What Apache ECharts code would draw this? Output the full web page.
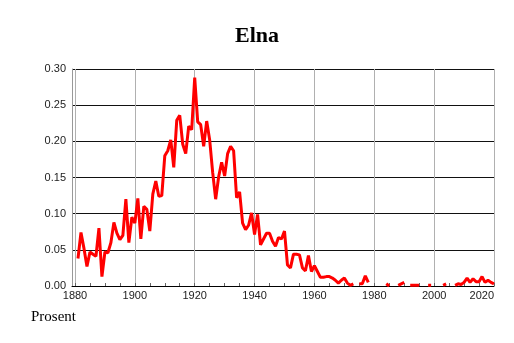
<!DOCTYPE html>
<html>
<head>
<meta charset="utf-8">
<script src="https://cdn.jsdelivr.net/npm/echarts@6/dist/echarts.min.js"></script>
<style>
  html, body { margin: 0; padding: 0; background: #fff; }
  #chart { width: 514px; height: 343px; }
</style>
</head>
<body>
<div id="chart"></div>
<script>
// Andel (prosent) med navnet Elna, per år
const startYear = 1880;
const shares = [
  null, 0.038, 0.074, 0.052, 0.027, 0.047, 0.044, 0.041, 0.080, 0.013, // 1880-1889
  0.047, 0.046, 0.060, 0.088, 0.073, 0.064, 0.070, 0.120, 0.060, 0.095, // 1890-1899
  0.087, 0.121, 0.065, 0.110, 0.106, 0.076, 0.127, 0.145, 0.124, 0.125, // 1900-1909
  0.180, 0.187, 0.202, 0.164, 0.229, 0.236, 0.196, 0.183, 0.221, 0.216, // 1910-1919
  0.288, 0.227, 0.223, 0.193, 0.228, 0.202, 0.157, 0.120, 0.151, 0.171, // 1920-1929
  0.152, 0.183, 0.193, 0.187, 0.122, 0.130, 0.087, 0.078, 0.084, 0.101, // 1930-1939
  0.071, 0.099, 0.057, 0.065, 0.073, 0.073, 0.062, 0.055, 0.067, 0.065, // 1940-1949
  0.076, 0.029, 0.025, 0.044, 0.044, 0.043, 0.025, 0.021, 0.042, 0.020, // 1950-1959
  0.028, 0.020, 0.012, 0.012, 0.013, 0.013, 0.011, 0.008, 0.004, 0.008, // 1960-1969
  0.011, 0.004, 0.001, 0.003, null, 0.003, 0.003, 0.014, 0.005, null,   // 1970-1979
  null, null, null, null, 0.003, 0.000, null, null, 0.001, 0.003,       // 1980-1989
  0.005, null, 0.001, 0.001, 0.001, 0.001, null, null, 0.001, 0.001,    // 1990-1999
  null, null, null, 0.001, 0.003, null, null, 0.001, 0.003, 0.002,      // 2000-2009
  0.005, 0.011, 0.005, 0.010, 0.006, 0.006, 0.013, 0.005, 0.008, 0.005, // 2010-2019
  0.003                                                                 // 2020
];
const yearLabels = [1880, 1900, 1920, 1940, 1960, 1980, 2000, 2020];
const minorTicks = [1880, 1885, 1890, 1895, 1900, 1905, 1910, 1915, 1920, 1925, 1930,
  1935, 1940, 1945, 1950, 1955, 1960, 1965, 1970, 1975, 1980, 1985, 1990, 1995,
  2000, 2005, 2010, 2015, 2020];

const seriesData = shares.map((v, i) => [startYear + i, v]);

const chart = echarts.init(document.getElementById('chart'));

chart.setOption({
  animation: false,
  title: {
    text: 'Elna',
    left: 'center',
    top: 20,
    textStyle: {
      fontFamily: 'Liberation Serif',
      fontWeight: 'bold',
      fontSize: 22,
      color: '#000'
    }
  },
  graphic: [{
    type: 'text',
    left: 31,
    top: 310,
    style: {
      text: 'Prosent',
      font: '15px "Liberation Serif"',
      fill: '#000'
    }
  }],
  grid: {
    left: 72,
    right: 20,
    top: 69,
    bottom: 57
  },
  xAxis: [{
    type: 'value',
    min: 1879,
    max: 2020,
    axisLine: { show: true, lineStyle: { color: '#000', width: 1 } },
    axisTick: { show: false, customValues: yearLabels },
    axisLabel: {
      customValues: yearLabels,
      formatter: v => String(v),
      fontFamily: 'Liberation Sans',
      fontSize: 11,
      color: '#222',
      margin: 4,
      alignMaxLabel: 'right'
    },
    splitLine: { show: true, lineStyle: { color: '#b0b0b0', width: 1 } }
  }, {
    type: 'value',
    position: 'bottom',
    min: 1879,
    max: 2020,
    axisLine: { show: false },
    axisTick: {
      show: true,
      inside: true,
      length: 3,
      customValues: minorTicks,
      lineStyle: { color: '#666' }
    },
    axisLabel: { show: false },
    splitLine: { show: false }
  }],
  yAxis: {
    type: 'value',
    min: 0,
    max: 0.3,
    interval: 0.05,
    axisLine: { show: true, lineStyle: { color: '#999' } },
    axisTick: { show: false },
    axisLabel: {
      formatter: v => v.toFixed(2),
      fontFamily: 'Liberation Sans',
      fontSize: 11,
      color: '#222',
      margin: 6
    },
    splitLine: { show: true, lineStyle: { color: '#111', width: 1 } }
  },
  series: [{
    type: 'line',
    xAxisIndex: 0,
    data: seriesData,
    showSymbol: false,
    connectNulls: false,
    lineStyle: { color: '#ff0000', width: 3 },
    itemStyle: { color: '#ff0000' }
  }]
});
</script>
</body>
</html>
